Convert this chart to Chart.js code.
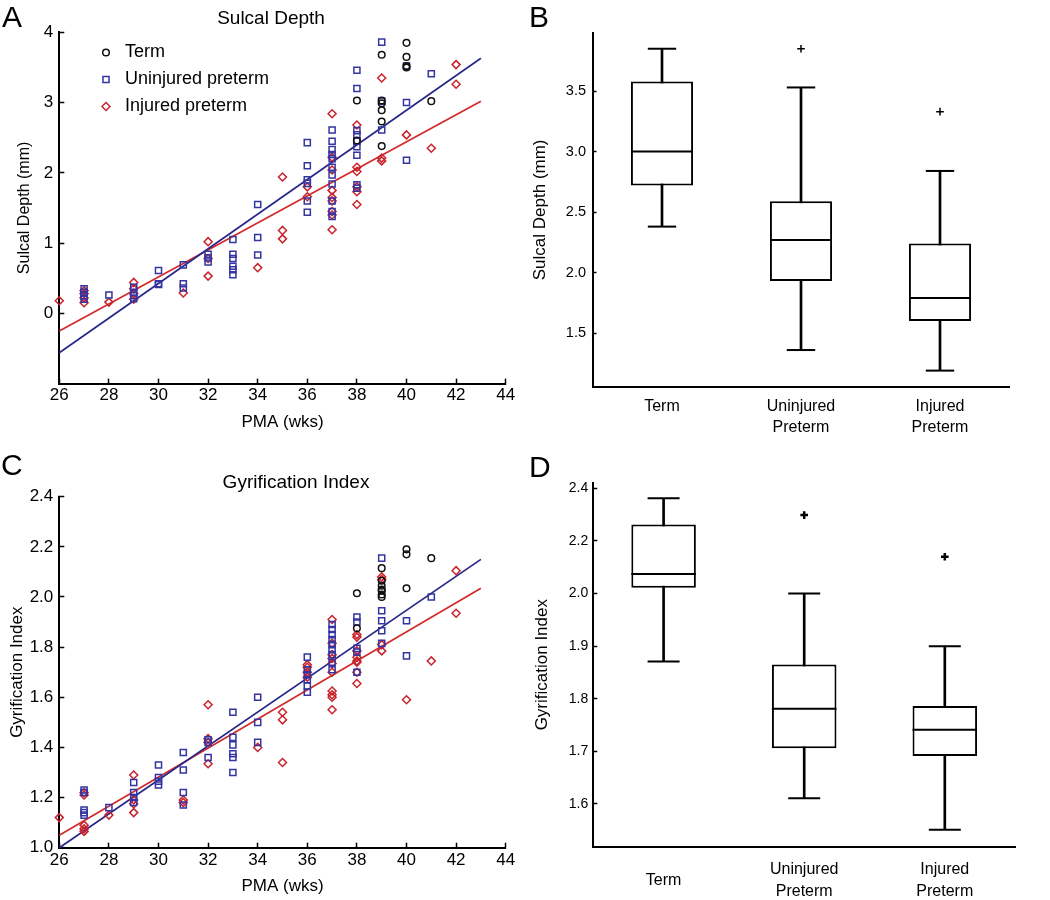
<!DOCTYPE html>
<html>
<head>
<meta charset="utf-8">
<script src="https://cdn.jsdelivr.net/npm/chart.js@4.4.1/dist/chart.umd.min.js"></script>
<style>
  body { margin: 0; background: #fff; }
  #wrap { position: relative; width: 1050px; height: 900px; overflow: hidden; }
  canvas { position: absolute; }
  .letter { position: absolute; font: 30px 'Liberation Sans', Arial, sans-serif; line-height: 30px; color: #000; }
</style>
</head>
<body>
<div id="wrap">
  <canvas id="chartA" width="542" height="440" style="left:0;top:0"></canvas>
  <canvas id="chartB" width="570" height="440" style="left:480px;top:0"></canvas>
  <canvas id="chartC" width="592" height="460" style="left:0;top:440px"></canvas>
  <canvas id="chartD" width="570" height="460" style="left:480px;top:440px"></canvas>
  <div class="letter" style="left:2px;top:2px">A</div>
  <div class="letter" style="left:529px;top:2px">B</div>
  <div class="letter" style="left:1px;top:450px">C</div>
  <div class="letter" style="left:529px;top:452px">D</div>
</div>
<script>
Chart.defaults.font.family = "'Liberation Sans', Arial, sans-serif";
Chart.defaults.color = '#000';

// ---- scatter data, [PMA (wks), value] ----
const xTicks = [26, 28, 30, 32, 34, 36, 38, 40, 42, 44];
const fitPma = [26, 43];

// Panel A: sulcal depth (mm)
const termA = [[38,3.03],[38,2.46],[39,3.68],[39,3.03],[39,2.99],[39,2.89],[39,2.73],[39,2.38],
  [40,3.85],[40,3.65],[40,3.52],[40,3.50],[41,3.02]];
const uninjA = [[27,0.35],[27,0.30],[27,0.25],[27,0.20],[28,0.26],[29,0.37],[29,0.30],[29,0.25],[29,0.21],
  [30,0.61],[30,0.42],[30,0.41],[31,0.69],[31,0.42],[31,0.36],[32,0.84],[32,0.79],[32,0.73],
  [33,1.05],[33,0.84],[33,0.78],[33,0.67],[33,0.62],[33,0.55],[34,1.55],[34,1.08],[34,0.83],
  [36,2.43],[36,2.10],[36,1.90],[36,1.85],[36,1.60],[36,1.44],
  [37,2.61],[37,2.45],[37,2.33],[37,2.26],[37,2.20],[37,2.08],[37,1.97],[37,1.84],[37,1.60],[37,1.45],[37,1.38],
  [38,3.46],[38,3.20],[38,2.60],[38,2.54],[38,2.45],[38,2.37],[38,2.25],[38,1.83],[38,1.78],
  [39,3.86],[39,3.02],[39,2.61],[40,3.52],[40,3.00],[40,2.18],[41,3.41]];
const injA = [[26,0.18],[27,0.32],[27,0.28],[27,0.22],[27,0.15],[28,0.16],[29,0.44],[29,0.35],[29,0.28],[29,0.20],
  [31,0.29],[32,1.02],[32,0.78],[32,0.53],[34,0.65],[35,1.94],[35,1.18],[35,1.06],[36,1.80],[36,1.66],
  [37,2.84],[37,2.22],[37,2.04],[37,1.75],[37,1.65],[37,1.60],[37,1.45],[37,1.40],[37,1.19],
  [38,2.68],[38,2.08],[38,2.02],[38,1.80],[38,1.73],[38,1.55],
  [39,3.35],[39,2.21],[39,2.17],[40,2.54],[41,2.35],[42,3.54],[42,3.26]];
const fitUninjA = [-0.56, 3.63];
const fitInjA = [-0.25, 3.02];
const yTicksA = [0, 1, 2, 3, 4];

// Panel C: gyrification index
const termC = [[38,2.015],[38,1.875],[39,2.115],[39,2.065],[39,2.045],[39,2.03],[39,2.025],[39,2.01],[39,2.0],
  [40,2.19],[40,2.17],[40,2.035],[41,2.155]];
const uninjC = [[27,1.23],[27,1.22],[27,1.15],[27,1.14],[27,1.13],[28,1.16],[29,1.26],[29,1.22],[29,1.20],[29,1.18],
  [30,1.33],[30,1.28],[30,1.265],[30,1.25],[31,1.38],[31,1.31],[31,1.22],[31,1.17],[32,1.43],[32,1.42],[32,1.36],
  [33,1.54],[33,1.44],[33,1.41],[33,1.375],[33,1.36],[33,1.30],[34,1.60],[34,1.50],[34,1.42],
  [36,1.76],[36,1.71],[36,1.69],[36,1.67],[36,1.645],[36,1.62],
  [37,1.89],[37,1.87],[37,1.85],[37,1.83],[37,1.81],[37,1.79],[37,1.77],[37,1.74],[37,1.71],
  [38,1.92],[38,1.90],[38,1.795],[38,1.78],[38,1.70],
  [39,2.155],[39,1.945],[39,1.905],[39,1.865],[39,1.815],[40,1.905],[40,1.765],[41,2.0]];
const injC = [[26,1.12],[27,1.22],[27,1.21],[27,1.09],[27,1.075],[27,1.065],[28,1.13],[29,1.29],[29,1.19],[29,1.175],[29,1.14],
  [31,1.19],[31,1.18],[32,1.57],[32,1.435],[32,1.42],[32,1.335],[34,1.40],[35,1.54],[35,1.51],[35,1.34],
  [36,1.73],[36,1.72],[36,1.70],[36,1.68],
  [37,1.91],[37,1.815],[37,1.77],[37,1.755],[37,1.735],[37,1.70],[37,1.625],[37,1.61],[37,1.60],[37,1.55],
  [38,1.85],[38,1.84],[38,1.785],[38,1.76],[38,1.745],[38,1.74],[38,1.70],[38,1.655],
  [39,2.08],[39,2.07],[39,1.81],[39,1.785],[40,1.59],[41,1.745],[42,2.105],[42,1.935]];
const fitUninjC = [1.0, 2.15];
const fitInjC = [1.05, 2.035];
const yTicksC = [1.0, 1.2, 1.4, 1.6, 1.8, 2.0, 2.2, 2.4];

// ---- box plot data ----
const groups = ['Term', ['Uninjured', 'Preterm'], ['Injured', 'Preterm']];
// Panel B: sulcal depth
const sdMin = [2.38, 1.36, 1.19];
const sdQ1 = [2.72, 1.93, 1.60];
const sdMed = [3.00, 2.27, 1.79];
const sdQ3 = [3.58, 2.59, 2.24];
const sdMax = [3.85, 3.53, 2.84];
const sdOut = [null, 3.85, 3.33];
const yTicksB = [1.5, 2.0, 2.5, 3.0, 3.5];
// Panel D: gyrification index
const giMin = [1.871, 1.611, 1.551];
const giQ1 = [2.011, 1.706, 1.691];
const giMed = [2.037, 1.781, 1.741];
const giQ3 = [2.131, 1.865, 1.786];
const giMax = [2.181, 2.000, 1.900];
const giOut = [null, 2.149, 2.070];
const yTicksD = [1.6, 1.7, 1.8, 1.9, 2.0, 2.1, 2.2];
const yTickLabelsD = ['1.6', '1.7', '1.8', '1.9', '2.0', '2.2', '2.4'];

const BLUE = '#3434a2', RED = '#c8232c', BLUE_LINE = '#27278a', RED_LINE = '#d22a2a';

function pts(pairs) { return pairs.map(p => ({ x: p[0], y: p[1] })); }

function markerSet(label, pairs, pointStyle, color, radius) {
  return {
    label, data: pts(pairs), pointStyle, pointRadius: radius, pointHoverRadius: radius,
    pointBorderWidth: 1.5, borderColor: color, backgroundColor: 'rgba(0,0,0,0)', clip: false
  };
}

function fitSet(ys, color) {
  return {
    data: fitPma.map((x, i) => ({ x, y: ys[i] })), showLine: true, pointRadius: 0,
    borderColor: color, borderWidth: 1.7, clip: false
  };
}

function drawMarker(ctx, style, x, y, r) {
  ctx.beginPath();
  if (style === 'circle') ctx.arc(x, y, r, 0, Math.PI * 2);
  else if (style === 'rect') { const s = r * Math.SQRT1_2; ctx.rect(x - s, y - s, 2 * s, 2 * s); }
  else { ctx.moveTo(x - r, y); ctx.lineTo(x, y - r); ctx.lineTo(x + r, y); ctx.lineTo(x, y + r); ctx.closePath(); }
  ctx.stroke();
}

// legend drawn inside the plot area, like the original
const insideLegend = {
  id: 'insideLegend',
  afterDatasetsDraw(chart, args, opts) {
    if (!opts.show) return;
    const { ctx, chartArea } = chart;
    ctx.save();
    ctx.font = "18px 'Liberation Sans', Arial, sans-serif";
    ctx.textBaseline = 'middle';
    chart.data.datasets.filter(d => d.pointStyle).forEach((d, i) => {
      const y = chartArea.top + opts.top + i * opts.gap;
      ctx.strokeStyle = d.borderColor;
      ctx.lineWidth = d.pointBorderWidth;
      drawMarker(ctx, d.pointStyle, chartArea.left + opts.markerX, y, d.pointRadius);
      ctx.fillStyle = '#000';
      ctx.fillText(d.label, chartArea.left + opts.textX, y);
    });
    ctx.restore();
  }
};

const axisGrid = { drawOnChartArea: false, tickLength: -5, color: '#000', tickWidth: 1.5 };
const axisBorder = { color: '#000', width: 2 };

function scatterChart(id, cfg) {
  return new Chart(document.getElementById(id), {
    type: 'scatter',
    data: {
      datasets: [
        markerSet('Term', cfg.term, 'circle', '#111', 3.3),
        markerSet('Uninjured preterm', cfg.uninj, 'rect', BLUE, 4.3),
        markerSet('Injured preterm', cfg.inj, 'rectRot', RED, 4),
        fitSet(cfg.fitUninj, BLUE_LINE),
        fitSet(cfg.fitInj, RED_LINE)
      ]
    },
    plugins: [insideLegend],
    options: {
      animation: false, responsive: false, events: [],
      layout: { padding: { left: 0, top: 0, right: 0, bottom: cfg.padBottom } },
      plugins: {
        legend: { display: false }, tooltip: { enabled: false },
        title: { display: true, text: cfg.title, font: { size: 19, weight: 'normal' }, color: '#000', padding: cfg.titlePad },
        insideLegend: { show: cfg.legend, top: 20.2, gap: 27, markerX: 46.7, textX: 65.7 }
      },
      scales: {
        x: {
          type: 'linear', min: 26, max: 44,
          afterBuildTicks: ax => { ax.ticks = xTicks.map(v => ({ value: v })); },
          afterFit: ax => { ax.height = 49.2; ax.paddingRight = cfg.padRight; },
          ticks: { padding: 7, font: { size: 17 }, color: '#000', autoSkip: false, maxRotation: 0 },
          grid: axisGrid, border: axisBorder,
          title: { display: true, text: 'PMA (wks)', font: { size: 17 }, color: '#000', padding: { top: 0, bottom: 0 } }
        },
        y: {
          min: cfg.yMin, max: cfg.yMax,
          afterBuildTicks: ax => { ax.ticks = cfg.yTicks.map(v => ({ value: v })); },
          afterFit: ax => { ax.width = 59.3; },
          ticks: { padding: 11, font: { size: 17 }, color: '#000', callback: cfg.yFmt },
          grid: axisGrid, border: axisBorder,
          title: { display: true, text: cfg.yTitle, font: { size: cfg.yTitleSize }, color: '#000', padding: { top: cfg.yTitlePad, bottom: 0 } }
        }
      }
    }
  });
}

scatterChart('chartA', {
  term: termA, uninj: uninjA, inj: injA, fitUninj: fitUninjA, fitInj: fitInjA,
  title: 'Sulcal Depth', titlePad: { top: 7, bottom: 2.5 }, legend: true,
  padBottom: 7.2, padRight: 36.3, yMin: -1, yMax: 4, yTicks: yTicksA, yFmt: v => String(v),
  yTitle: 'Sulcal Depth (mm)', yTitleSize: 16, yTitlePad: 15
});

scatterChart('chartC', {
  term: termC, uninj: uninjC, inj: injC, fitUninj: fitUninjC, fitInj: fitInjC,
  title: 'Gyrification Index', titlePad: { top: 31.6, bottom: 2.3 }, legend: false,
  padBottom: 3.1, padRight: 86.3, yMin: 1.0, yMax: 2.4, yTicks: yTicksC, yFmt: v => v.toFixed(1),
  yTitle: 'Gyrification Index', yTitleSize: 17, yTitlePad: 6.8
});

function boxChart(id, cfg) {
  const lineSet = (data, style, radius, width, order) => ({
    type: 'line', data, showLine: false, pointStyle: style, pointRadius: radius, pointHoverRadius: radius,
    pointBorderWidth: width, borderColor: '#000', pointBorderColor: '#000', backgroundColor: '#000', order, clip: false
  });
  return new Chart(document.getElementById(id), {
    type: 'bar',
    data: {
      labels: groups,
      datasets: [
        lineSet(cfg.med, 'line', cfg.medR, 2, 0),
        lineSet(cfg.max, 'line', cfg.capR, 2, 1),
        lineSet(cfg.min, 'line', cfg.capR, 2, 1),
        lineSet(cfg.out, 'cross', 3.8, cfg.crossW, 1),
        {
          data: cfg.q1.map((q, i) => [q, cfg.q3[i]]), backgroundColor: '#fff', borderColor: '#000',
          borderWidth: 2, borderSkipped: false, barPercentage: cfg.boxPct, categoryPercentage: 1, grouped: false, order: 2
        },
        {
          data: cfg.min.map((m, i) => [m, cfg.max[i]]), backgroundColor: '#000', borderWidth: 0,
          barThickness: 2, grouped: false, order: 3
        }
      ]
    },
    options: {
      animation: false, responsive: false, events: [],
      layout: { padding: { left: 0, top: cfg.padTop, right: cfg.padRight, bottom: 0 } },
      plugins: { legend: { display: false }, tooltip: { enabled: false } },
      scales: {
        x: {
          afterFit: ax => { ax.height = 53.3; },
          grid: { drawOnChartArea: false, drawTicks: false }, border: axisBorder,
          ticks: { padding: cfg.xPad, crossAlign: cfg.xAlign, font: { size: 16, lineHeight: cfg.xLh }, color: '#000', autoSkip: false, maxRotation: 0 }
        },
        y: {
          min: cfg.yMin, max: cfg.yMax,
          afterBuildTicks: ax => { ax.ticks = cfg.yTicks.map(v => ({ value: v })); },
          afterFit: ax => { ax.width = cfg.yWidth; },
          ticks: { padding: cfg.yPad, font: { size: cfg.yFont }, color: '#000', callback: cfg.yFmt },
          grid: { drawOnChartArea: false, tickLength: -4, color: '#000', tickWidth: 1.5 }, border: axisBorder,
          title: { display: true, text: cfg.yTitle, font: { size: 17 }, color: '#000', padding: { top: cfg.yTitlePad, bottom: 0 } }
        }
      }
    }
  });
}

boxChart('chartB', {
  min: sdMin, q1: sdQ1, med: sdMed, q3: sdQ3, max: sdMax, out: sdOut,
  medR: 31, capR: 14.2, crossW: 1.5, boxPct: 0.447,
  padTop: 15, padRight: 40.5, xPad: 9.9, xAlign: 'near', xLh: 1.3,
  yMin: 1.057, yMax: 3.98, yTicks: yTicksB, yFmt: v => v.toFixed(1), yWidth: 112.5, yPad: 10.5, yFont: 14.5,
  yTitle: 'Sulcal Depth (mm)', yTitlePad: 50.3
});

boxChart('chartD', {
  min: giMin, q1: giQ1, med: giMed, q3: giQ3, max: giMax, out: giOut,
  medR: 32.3, capR: 16, crossW: 2.5, boxPct: 0.459,
  padTop: 42.7, padRight: 34.9, xPad: 23.3, xAlign: 'center', xLh: 1.35,
  yMin: 1.5188, yMax: 2.2106, yTicks: yTicksD, yFmt: (v, i) => yTickLabelsD[i], yWidth: 113.3, yPad: 9, yFont: 14,
  yTitle: 'Gyrification Index', yTitlePad: 52.5
});
</script>
</body>
</html>
